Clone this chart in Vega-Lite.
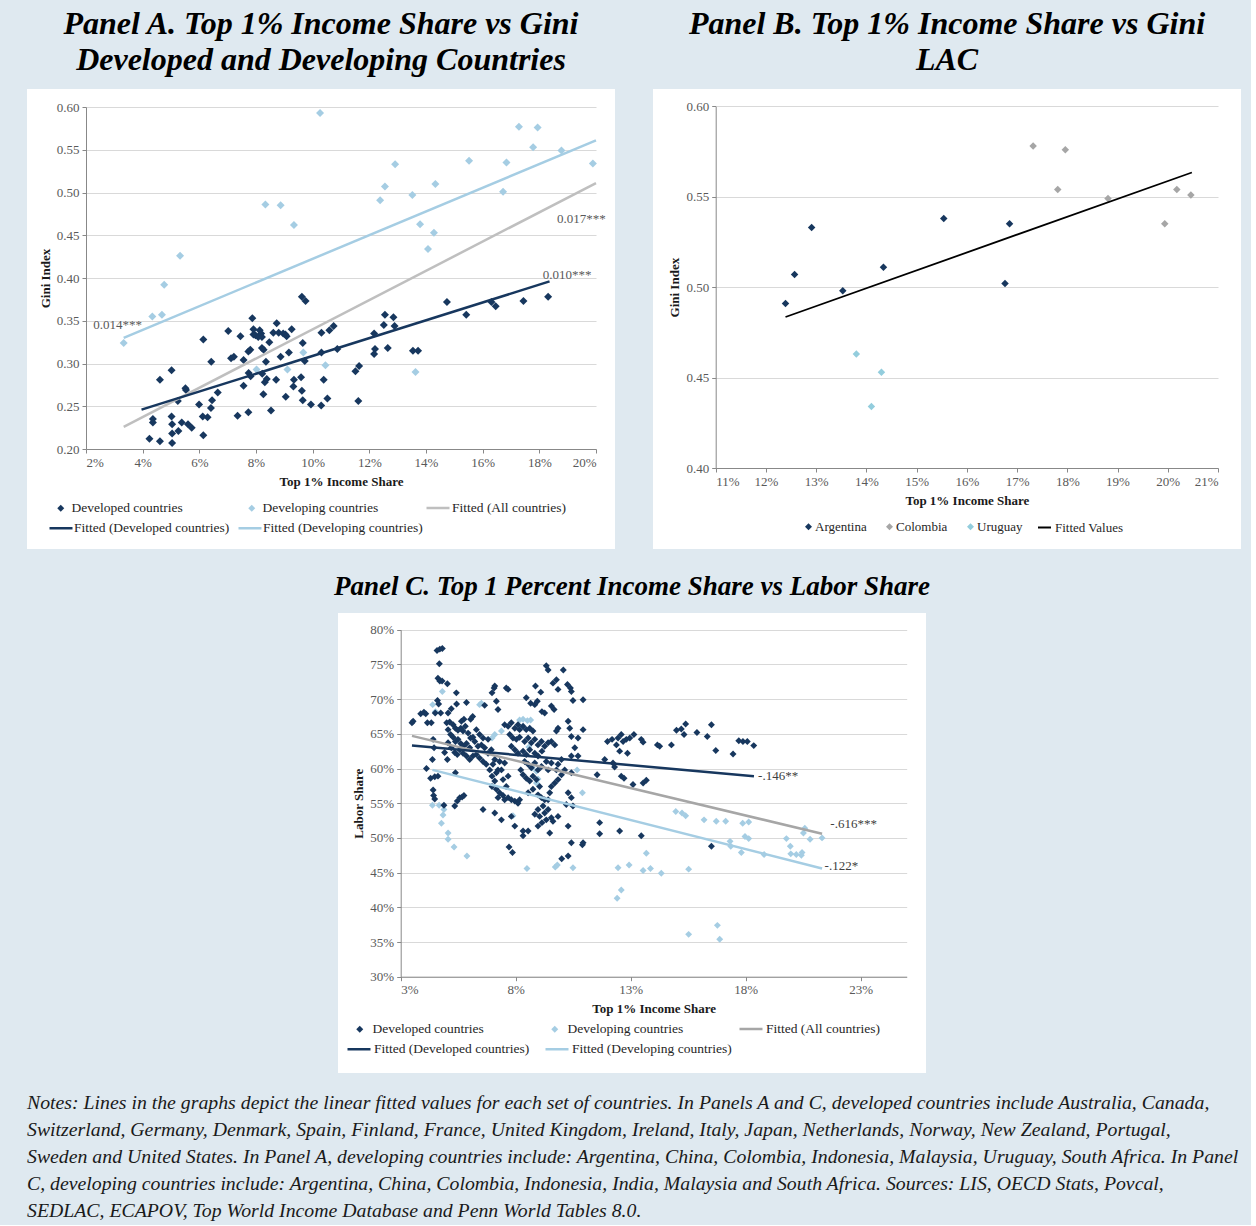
{
"$schema":"https://vega.github.io/schema/vega-lite/v6.json",
"background":"#dfe9f0",
"padding":{"left":27,"top":8,"right":10,"bottom":4},
"title":{"text":["Notes: Lines in the graphs depict the linear fitted values for each set of countries. In Panels A and C, developed countries include Australia, Canada,","Switzerland, Germany, Denmark, Spain, Finland, France, United Kingdom, Ireland, Italy, Japan, Netherlands, Norway, New Zealand, Portugal,","Sweden and United States. In Panel A, developing countries include: Argentina, China, Colombia, Indonesia, Malaysia, Uruguay, South Africa. In Panel","C, developing countries include: Argentina, China, Colombia, Indonesia, India, Malaysia and South Africa. Sources: LIS, OECD Stats, Povcal,","SEDLAC, ECAPOV, Top World Income Database and Penn World Tables 8.0."],"orient":"bottom","anchor":"start","frame":"bounds","font":"Liberation Serif","fontStyle":"italic","fontWeight":"normal","fontSize":19.8,"lineHeight":27,"offset":20,"color":"#1a1a1a"},
"datasets":{
"a_pts":[
{"x":10.26,"y":0.593,"s":"dvg"},{"x":8.33,"y":0.486,"s":"dvg"},{"x":8.87,"y":0.485,"s":"dvg"},{"x":9.34,"y":0.462,"s":"dvg"},{"x":5.32,"y":0.426,"s":"dvg"},{"x":4.76,"y":0.392,"s":"dvg"},{"x":4.34,"y":0.355,"s":"dvg"},{"x":4.68,"y":0.357,"s":"dvg"},{"x":3.33,"y":0.324,"s":"dvg"},{"x":9.67,"y":0.313,"s":"dvg"},{"x":8.02,"y":0.293,"s":"dvg"},{"x":9.11,"y":0.293,"s":"dvg"},{"x":10.45,"y":0.298,"s":"dvg"},{"x":17.28,"y":0.577,"s":"dvg"},{"x":17.94,"y":0.576,"s":"dvg"},{"x":17.78,"y":0.553,"s":"dvg"},{"x":18.78,"y":0.549,"s":"dvg"},{"x":19.89,"y":0.534,"s":"dvg"},{"x":16.84,"y":0.535,"s":"dvg"},{"x":15.52,"y":0.537,"s":"dvg"},{"x":12.91,"y":0.533,"s":"dvg"},{"x":12.55,"y":0.507,"s":"dvg"},{"x":12.38,"y":0.491,"s":"dvg"},{"x":13.52,"y":0.497,"s":"dvg"},{"x":14.33,"y":0.51,"s":"dvg"},{"x":16.72,"y":0.501,"s":"dvg"},{"x":13.79,"y":0.463,"s":"dvg"},{"x":14.28,"y":0.453,"s":"dvg"},{"x":14.07,"y":0.434,"s":"dvg"},{"x":13.63,"y":0.29,"s":"dvg"},
{"x":4.24,"y":0.212,"s":"dev"},{"x":4.36,"y":0.235,"s":"dev"},{"x":4.36,"y":0.231,"s":"dev"},{"x":4.61,"y":0.209,"s":"dev"},{"x":4.61,"y":0.281,"s":"dev"},{"x":5.02,"y":0.292,"s":"dev"},{"x":5.02,"y":0.238,"s":"dev"},{"x":5.04,"y":0.229,"s":"dev"},{"x":5.04,"y":0.218,"s":"dev"},{"x":5.04,"y":0.207,"s":"dev"},{"x":5.26,"y":0.221,"s":"dev"},{"x":5.24,"y":0.256,"s":"dev"},{"x":5.38,"y":0.231,"s":"dev"},{"x":5.51,"y":0.271,"s":"dev"},{"x":5.53,"y":0.269,"s":"dev"},{"x":5.6,"y":0.229,"s":"dev"},{"x":5.73,"y":0.225,"s":"dev"},{"x":5.99,"y":0.252,"s":"dev"},{"x":6.14,"y":0.328,"s":"dev"},{"x":6.12,"y":0.238,"s":"dev"},{"x":6.14,"y":0.216,"s":"dev"},{"x":6.29,"y":0.237,"s":"dev"},{"x":6.42,"y":0.302,"s":"dev"},{"x":6.45,"y":0.257,"s":"dev"},{"x":6.41,"y":0.248,"s":"dev"},{"x":6.65,"y":0.266,"s":"dev"},{"x":7.02,"y":0.338,"s":"dev"},{"x":7.12,"y":0.306,"s":"dev"},{"x":7.22,"y":0.308,"s":"dev"},{"x":7.35,"y":0.239,"s":"dev"},{"x":7.45,"y":0.332,"s":"dev"},{"x":7.56,"y":0.304,"s":"dev"},{"x":7.56,"y":0.274,"s":"dev"},{"x":7.73,"y":0.243,"s":"dev"},{"x":7.73,"y":0.314,"s":"dev"},{"x":7.8,"y":0.316,"s":"dev"},{"x":7.87,"y":0.353,"s":"dev"},{"x":7.91,"y":0.34,"s":"dev"},{"x":7.91,"y":0.334,"s":"dev"},{"x":7.74,"y":0.289,"s":"dev"},{"x":7.81,"y":0.285,"s":"dev"},{"x":7.98,"y":0.333,"s":"dev"},{"x":8.08,"y":0.331,"s":"dev"},{"x":8.13,"y":0.339,"s":"dev"},{"x":8.18,"y":0.335,"s":"dev"},{"x":8.21,"y":0.318,"s":"dev"},{"x":8.21,"y":0.331,"s":"dev"},{"x":8.22,"y":0.288,"s":"dev"},{"x":8.27,"y":0.316,"s":"dev"},{"x":8.26,"y":0.264,"s":"dev"},{"x":8.31,"y":0.278,"s":"dev"},{"x":8.38,"y":0.282,"s":"dev"},{"x":8.35,"y":0.302,"s":"dev"},{"x":8.47,"y":0.325,"s":"dev"},{"x":8.53,"y":0.245,"s":"dev"},{"x":8.61,"y":0.336,"s":"dev"},{"x":8.73,"y":0.347,"s":"dev"},{"x":8.71,"y":0.281,"s":"dev"},{"x":8.8,"y":0.336,"s":"dev"},{"x":8.87,"y":0.308,"s":"dev"},{"x":8.96,"y":0.335,"s":"dev"},{"x":9.04,"y":0.334,"s":"dev"},{"x":9.08,"y":0.332,"s":"dev"},{"x":9.05,"y":0.261,"s":"dev"},{"x":9.16,"y":0.313,"s":"dev"},{"x":9.26,"y":0.34,"s":"dev"},{"x":9.32,"y":0.273,"s":"dev"},{"x":9.34,"y":0.281,"s":"dev"},{"x":9.59,"y":0.284,"s":"dev"},{"x":9.62,"y":0.378,"s":"dev"},{"x":9.75,"y":0.373,"s":"dev"},{"x":9.65,"y":0.324,"s":"dev"},{"x":9.62,"y":0.268,"s":"dev"},{"x":9.65,"y":0.257,"s":"dev"},{"x":9.72,"y":0.303,"s":"dev"},{"x":9.94,"y":0.252,"s":"dev"},{"x":10.3,"y":0.251,"s":"dev"},{"x":10.31,"y":0.336,"s":"dev"},{"x":10.31,"y":0.313,"s":"dev"},{"x":10.39,"y":0.281,"s":"dev"},{"x":10.52,"y":0.259,"s":"dev"},{"x":10.59,"y":0.339,"s":"dev"},{"x":10.74,"y":0.344,"s":"dev"},{"x":10.87,"y":0.317,"s":"dev"},{"x":11.51,"y":0.291,"s":"dev"},{"x":11.64,"y":0.297,"s":"dev"},{"x":11.61,"y":0.256,"s":"dev"},{"x":12.17,"y":0.335,"s":"dev"},{"x":12.2,"y":0.317,"s":"dev"},{"x":12.17,"y":0.311,"s":"dev"},{"x":12.51,"y":0.345,"s":"dev"},{"x":12.55,"y":0.357,"s":"dev"},{"x":12.65,"y":0.318,"s":"dev"},{"x":12.85,"y":0.354,"s":"dev"},{"x":12.89,"y":0.344,"s":"dev"},{"x":13.54,"y":0.315,"s":"dev"},{"x":13.72,"y":0.315,"s":"dev"},{"x":14.74,"y":0.372,"s":"dev"},{"x":15.42,"y":0.357,"s":"dev"},{"x":16.31,"y":0.372,"s":"dev"},{"x":16.46,"y":0.367,"s":"dev"},{"x":17.44,"y":0.373,"s":"dev"},{"x":18.31,"y":0.378,"s":"dev"}],
"a_fa":[{"x":3.33,"y":0.226,"s":"fa"},{"x":20,"y":0.511,"s":"fa"}],
"a_fdg":[{"x":3.96,"y":0.246,"s":"fd"},{"x":18.36,"y":0.396,"s":"fd"},{"x":3.33,"y":0.33,"s":"fg"},{"x":20,"y":0.561,"s":"fg"}],
"a_lbl":[{"x":2.26,"y":0.345,"t":"0.014***"},{"x":18.62,"y":0.469,"t":"0.017***"},{"x":18.12,"y":0.404,"t":"0.010***"}],
"b_pts":[{"x":12.39,"y":0.491,"c":"Argentina"},{"x":12.57,"y":0.507,"c":"Argentina"},{"x":12.91,"y":0.533,"c":"Argentina"},{"x":13.53,"y":0.498,"c":"Argentina"},{"x":14.34,"y":0.511,"c":"Argentina"},{"x":15.54,"y":0.538,"c":"Argentina"},{"x":16.85,"y":0.535,"c":"Argentina"},{"x":16.76,"y":0.502,"c":"Argentina"},{"x":17.32,"y":0.578,"c":"Colombia"},{"x":17.96,"y":0.576,"c":"Colombia"},{"x":17.81,"y":0.554,"c":"Colombia"},{"x":18.81,"y":0.549,"c":"Colombia"},{"x":19.94,"y":0.535,"c":"Colombia"},{"x":20.18,"y":0.554,"c":"Colombia"},{"x":20.46,"y":0.551,"c":"Colombia"},{"x":13.8,"y":0.463,"c":"Uruguay"},{"x":14.3,"y":0.453,"c":"Uruguay"},{"x":14.1,"y":0.434,"c":"Uruguay"}],
"b_fit":[{"x":12.39,"y":0.4835,"c":"Fitted Values"},{"x":20.48,"y":0.5634,"c":"Fitted Values"}],
"c_pts":[
{"x":4.39,"y":69.2,"s":"dvg"},{"x":4.51,"y":68.2,"s":"dvg"},{"x":4.81,"y":71.1,"s":"dvg"},{"x":4.38,"y":54.7,"s":"dvg"},{"x":4.67,"y":54.7,"s":"dvg"},{"x":4.88,"y":54.1,"s":"dvg"},{"x":4.84,"y":53.3,"s":"dvg"},{"x":4.77,"y":52.1,"s":"dvg"},{"x":5.06,"y":50.7,"s":"dvg"},{"x":5.06,"y":49.8,"s":"dvg"},{"x":5.32,"y":48.7,"s":"dvg"},{"x":5.88,"y":47.4,"s":"dvg"},{"x":6.43,"y":69.2,"s":"dvg"},{"x":6.51,"y":69.4,"s":"dvg"},{"x":6.97,"y":64.4,"s":"dvg"},{"x":7.09,"y":64.9,"s":"dvg"},{"x":7.38,"y":65.4,"s":"dvg"},{"x":8.17,"y":67.0,"s":"dvg"},{"x":8.32,"y":67.1,"s":"dvg"},{"x":8.51,"y":66.9,"s":"dvg"},{"x":8.65,"y":67.0,"s":"dvg"},{"x":8.17,"y":65.8,"s":"dvg"},{"x":8.57,"y":63.1,"s":"dvg"},{"x":8.72,"y":60.1,"s":"dvg"},{"x":8.9,"y":57.9,"s":"dvg"},{"x":8.97,"y":58.5,"s":"dvg"},{"x":7.88,"y":53.2,"s":"dvg"},{"x":10.67,"y":59.8,"s":"dvg"},{"x":10.9,"y":56.5,"s":"dvg"},{"x":8.49,"y":45.6,"s":"dvg"},{"x":9.72,"y":45.8,"s":"dvg"},{"x":9.81,"y":46.1,"s":"dvg"},{"x":10.49,"y":45.7,"s":"dvg"},{"x":12.45,"y":45.7,"s":"dvg"},{"x":12.59,"y":42.5,"s":"dvg"},{"x":12.41,"y":41.3,"s":"dvg"},{"x":12.93,"y":46.1,"s":"dvg"},{"x":13.54,"y":45.3,"s":"dvg"},{"x":13.68,"y":47.8,"s":"dvg"},{"x":13.86,"y":45.6,"s":"dvg"},{"x":14.33,"y":44.9,"s":"dvg"},{"x":15.52,"y":45.5,"s":"dvg"},{"x":15.52,"y":36.1,"s":"dvg"},{"x":16.77,"y":37.4,"s":"dvg"},{"x":16.87,"y":35.4,"s":"dvg"},{"x":14.96,"y":53.8,"s":"dvg"},{"x":15.23,"y":53.6,"s":"dvg"},{"x":15.39,"y":53.2,"s":"dvg"},{"x":16.19,"y":52.6,"s":"dvg"},{"x":16.72,"y":52.4,"s":"dvg"},{"x":17.13,"y":52.4,"s":"dvg"},{"x":17.87,"y":52.1,"s":"dvg"},{"x":18.13,"y":52.3,"s":"dvg"},{"x":17.97,"y":50.2,"s":"dvg"},{"x":18.13,"y":49.9,"s":"dvg"},{"x":17.32,"y":49.5,"s":"dvg"},{"x":17.35,"y":48.8,"s":"dvg"},{"x":17.81,"y":47.9,"s":"dvg"},{"x":19.77,"y":49.9,"s":"dvg"},{"x":19.94,"y":48.8,"s":"dvg"},{"x":20.51,"y":50.7,"s":"dvg"},{"x":20.57,"y":51.4,"s":"dvg"},{"x":20.8,"y":49.8,"s":"dvg"},{"x":21.32,"y":50.0,"s":"dvg"},{"x":20.45,"y":47.9,"s":"dvg"},{"x":18.8,"y":47.6,"s":"dvg"},{"x":19.96,"y":47.7,"s":"dvg"},{"x":20.2,"y":47.6,"s":"dvg"},{"x":20.42,"y":47.5,"s":"dvg"},{"x":8.9,"y":59.6,"s":"dvg"},
{"x":4.58,"y":77.0,"s":"dev"},{"x":4.7,"y":77.2,"s":"dev"},{"x":4.81,"y":77.3,"s":"dev"},{"x":4.68,"y":75.1,"s":"dev"},{"x":4.62,"y":73.0,"s":"dev"},{"x":4.7,"y":72.6,"s":"dev"},{"x":4.8,"y":72.6,"s":"dev"},{"x":5.03,"y":72.2,"s":"dev"},{"x":5.42,"y":70.9,"s":"dev"},{"x":5.86,"y":69.5,"s":"dev"},{"x":4.6,"y":69.8,"s":"dev"},{"x":4.65,"y":69.3,"s":"dev"},{"x":3.54,"y":66.8,"s":"dev"},{"x":3.49,"y":66.6,"s":"dev"},{"x":3.87,"y":67.9,"s":"dev"},{"x":4.01,"y":68.1,"s":"dev"},{"x":4.09,"y":67.9,"s":"dev"},{"x":4.16,"y":66.6,"s":"dev"},{"x":4.33,"y":66.6,"s":"dev"},{"x":4.5,"y":68.0,"s":"dev"},{"x":4.74,"y":68.0,"s":"dev"},{"x":5.06,"y":68.0,"s":"dev"},{"x":5.2,"y":68.6,"s":"dev"},{"x":5.43,"y":69.3,"s":"dev"},{"x":5.64,"y":66.8,"s":"dev"},{"x":5.75,"y":67.1,"s":"dev"},{"x":6.04,"y":67.1,"s":"dev"},{"x":6.13,"y":67.5,"s":"dev"},{"x":6.65,"y":69.1,"s":"dev"},{"x":6.97,"y":70.9,"s":"dev"},{"x":7.06,"y":71.6,"s":"dev"},{"x":7.09,"y":71.9,"s":"dev"},{"x":7.16,"y":69.7,"s":"dev"},{"x":7.23,"y":68.5,"s":"dev"},{"x":7.59,"y":71.6,"s":"dev"},{"x":7.67,"y":71.4,"s":"dev"},{"x":7.52,"y":66.3,"s":"dev"},{"x":8.46,"y":70.2,"s":"dev"},{"x":8.65,"y":69.4,"s":"dev"},{"x":8.83,"y":69.2,"s":"dev"},{"x":8.94,"y":69.7,"s":"dev"},{"x":8.86,"y":71.9,"s":"dev"},{"x":9.09,"y":71.0,"s":"dev"},{"x":9.33,"y":74.8,"s":"dev"},{"x":9.41,"y":74.2,"s":"dev"},{"x":9.62,"y":72.3,"s":"dev"},{"x":9.77,"y":72.8,"s":"dev"},{"x":9.84,"y":71.4,"s":"dev"},{"x":10.07,"y":74.2,"s":"dev"},{"x":10.25,"y":72.1,"s":"dev"},{"x":10.38,"y":71.6,"s":"dev"},{"x":10.42,"y":71.1,"s":"dev"},{"x":10.49,"y":69.8,"s":"dev"},{"x":10.93,"y":69.9,"s":"dev"},{"x":10.28,"y":66.8,"s":"dev"},{"x":9.55,"y":69.0,"s":"dev"},{"x":9.67,"y":68.5,"s":"dev"},{"x":9.14,"y":68.2,"s":"dev"},{"x":9.26,"y":68.0,"s":"dev"},{"x":9.84,"y":65.8,"s":"dev"},{"x":9.77,"y":65.4,"s":"dev"},{"x":10.42,"y":64.6,"s":"dev"},{"x":10.35,"y":65.8,"s":"dev"},{"x":10.93,"y":65.6,"s":"dev"},{"x":10.71,"y":64.4,"s":"dev"},{"x":10.57,"y":63.0,"s":"dev"},{"x":10.71,"y":61.8,"s":"dev"},
{"x":5.0,"y":66.6,"s":"dev"},{"x":5.13,"y":66.7,"s":"dev"},{"x":5.28,"y":66.3,"s":"dev"},{"x":5.38,"y":65.8,"s":"dev"},{"x":5.49,"y":65.5,"s":"dev"},{"x":5.61,"y":65.8,"s":"dev"},{"x":5.71,"y":65.4,"s":"dev"},{"x":5.81,"y":66.1,"s":"dev"},{"x":5.93,"y":65.1,"s":"dev"},{"x":6.04,"y":64.4,"s":"dev"},{"x":6.14,"y":64.5,"s":"dev"},{"x":5.06,"y":65.6,"s":"dev"},{"x":5.17,"y":64.9,"s":"dev"},{"x":5.28,"y":64.5,"s":"dev"},{"x":5.38,"y":63.9,"s":"dev"},{"x":5.49,"y":64.2,"s":"dev"},{"x":5.61,"y":63.6,"s":"dev"},{"x":5.72,"y":63.2,"s":"dev"},{"x":5.86,"y":63.6,"s":"dev"},{"x":6.0,"y":63.0,"s":"dev"},{"x":5.06,"y":63.7,"s":"dev"},{"x":5.2,"y":63.0,"s":"dev"},{"x":5.35,"y":62.3,"s":"dev"},{"x":5.46,"y":62.0,"s":"dev"},{"x":5.57,"y":62.7,"s":"dev"},{"x":5.71,"y":62.2,"s":"dev"},{"x":5.86,"y":61.8,"s":"dev"},{"x":6.0,"y":61.3,"s":"dev"},{"x":6.14,"y":61.8,"s":"dev"},{"x":6.29,"y":62.0,"s":"dev"},{"x":6.43,"y":61.5,"s":"dev"},{"x":6.58,"y":61.0,"s":"dev"},{"x":6.72,"y":60.6,"s":"dev"},{"x":6.36,"y":63.2,"s":"dev"},{"x":6.51,"y":63.4,"s":"dev"},{"x":6.65,"y":63.0,"s":"dev"},{"x":6.8,"y":62.2,"s":"dev"},{"x":6.94,"y":62.7,"s":"dev"},{"x":6.29,"y":65.6,"s":"dev"},{"x":6.43,"y":64.9,"s":"dev"},{"x":6.58,"y":64.4,"s":"dev"},{"x":6.22,"y":63.9,"s":"dev"},{"x":6.8,"y":64.2,"s":"dev"},{"x":4.91,"y":62.3,"s":"dev"},{"x":5.03,"y":61.3,"s":"dev"},{"x":4.41,"y":64.2,"s":"dev"},{"x":4.45,"y":63.0,"s":"dev"},{"x":4.38,"y":61.3,"s":"dev"},
{"x":4.12,"y":60.0,"s":"dev"},{"x":4.3,"y":58.6,"s":"dev"},{"x":4.48,"y":58.8,"s":"dev"},{"x":4.62,"y":58.9,"s":"dev"},{"x":4.41,"y":56.9,"s":"dev"},{"x":4.43,"y":56.1,"s":"dev"},{"x":4.48,"y":55.6,"s":"dev"},{"x":4.88,"y":54.7,"s":"dev"},{"x":5.35,"y":54.6,"s":"dev"},{"x":5.46,"y":55.3,"s":"dev"},{"x":5.57,"y":55.8,"s":"dev"},{"x":5.67,"y":55.9,"s":"dev"},{"x":5.75,"y":56.1,"s":"dev"},{"x":5.38,"y":59.4,"s":"dev"},{"x":6.58,"y":54.1,"s":"dev"},{"x":7.09,"y":53.6,"s":"dev"},{"x":7.38,"y":52.6,"s":"dev"},{"x":7.81,"y":53.1,"s":"dev"},{"x":7.96,"y":51.7,"s":"dev"},{"x":8.32,"y":51.0,"s":"dev"},{"x":8.32,"y":50.3,"s":"dev"},{"x":8.54,"y":51.0,"s":"dev"},
{"x":6.87,"y":59.8,"s":"dev"},{"x":6.97,"y":58.9,"s":"dev"},{"x":7.09,"y":58.2,"s":"dev"},{"x":6.97,"y":57.4,"s":"dev"},{"x":7.16,"y":57.0,"s":"dev"},{"x":7.3,"y":56.5,"s":"dev"},{"x":7.45,"y":56.1,"s":"dev"},{"x":7.23,"y":55.8,"s":"dev"},{"x":7.52,"y":55.5,"s":"dev"},{"x":7.67,"y":55.8,"s":"dev"},{"x":7.81,"y":55.5,"s":"dev"},{"x":7.96,"y":55.3,"s":"dev"},{"x":8.1,"y":55.0,"s":"dev"},{"x":8.17,"y":55.5,"s":"dev"},{"x":7.59,"y":57.4,"s":"dev"},{"x":7.45,"y":58.4,"s":"dev"},{"x":7.67,"y":58.9,"s":"dev"},{"x":7.38,"y":59.8,"s":"dev"},{"x":7.52,"y":60.8,"s":"dev"},{"x":7.3,"y":61.0,"s":"dev"},{"x":7.09,"y":61.3,"s":"dev"},{"x":7.01,"y":60.6,"s":"dev"},{"x":7.23,"y":59.8,"s":"dev"},{"x":7.16,"y":59.4,"s":"dev"},
{"x":7.67,"y":66.1,"s":"dev"},{"x":7.81,"y":66.6,"s":"dev"},{"x":7.96,"y":65.8,"s":"dev"},{"x":8.1,"y":66.3,"s":"dev"},{"x":8.17,"y":65.6,"s":"dev"},{"x":8.32,"y":66.1,"s":"dev"},{"x":8.46,"y":65.6,"s":"dev"},{"x":8.61,"y":65.8,"s":"dev"},{"x":8.75,"y":65.4,"s":"dev"},{"x":7.74,"y":64.9,"s":"dev"},{"x":7.88,"y":64.4,"s":"dev"},{"x":8.03,"y":64.2,"s":"dev"},{"x":8.17,"y":64.5,"s":"dev"},{"x":8.39,"y":63.9,"s":"dev"},{"x":8.54,"y":64.4,"s":"dev"},{"x":8.68,"y":63.7,"s":"dev"},{"x":8.83,"y":64.2,"s":"dev"},{"x":8.97,"y":63.4,"s":"dev"},{"x":9.12,"y":63.9,"s":"dev"},{"x":7.81,"y":63.2,"s":"dev"},{"x":7.96,"y":62.7,"s":"dev"},{"x":8.1,"y":62.2,"s":"dev"},{"x":8.32,"y":62.5,"s":"dev"},{"x":8.46,"y":62.0,"s":"dev"},{"x":8.61,"y":62.7,"s":"dev"},{"x":8.83,"y":62.2,"s":"dev"},{"x":8.97,"y":61.8,"s":"dev"},{"x":9.14,"y":62.5,"s":"dev"},{"x":9.26,"y":63.2,"s":"dev"},{"x":9.41,"y":63.7,"s":"dev"},{"x":9.55,"y":63.9,"s":"dev"},{"x":9.7,"y":63.4,"s":"dev"},{"x":8.39,"y":61.0,"s":"dev"},{"x":8.54,"y":60.6,"s":"dev"},{"x":8.68,"y":60.1,"s":"dev"},{"x":8.83,"y":60.8,"s":"dev"},{"x":8.97,"y":59.8,"s":"dev"},{"x":8.22,"y":59.8,"s":"dev"},{"x":8.32,"y":59.1,"s":"dev"},{"x":8.46,"y":58.6,"s":"dev"},{"x":8.61,"y":58.2,"s":"dev"},{"x":8.75,"y":58.9,"s":"dev"},{"x":8.9,"y":58.4,"s":"dev"},{"x":9.04,"y":57.4,"s":"dev"},{"x":8.75,"y":57.0,"s":"dev"},{"x":8.54,"y":56.5,"s":"dev"},{"x":8.97,"y":56.2,"s":"dev"},{"x":9.12,"y":55.8,"s":"dev"},{"x":9.26,"y":55.5,"s":"dev"},{"x":9.19,"y":54.6,"s":"dev"},{"x":8.97,"y":54.1,"s":"dev"},{"x":8.83,"y":53.4,"s":"dev"},{"x":9.04,"y":53.1,"s":"dev"},{"x":9.26,"y":53.6,"s":"dev"},{"x":9.41,"y":54.1,"s":"dev"},{"x":9.33,"y":52.6,"s":"dev"},{"x":9.14,"y":52.2,"s":"dev"},{"x":8.97,"y":51.7,"s":"dev"},{"x":9.55,"y":52.9,"s":"dev"},{"x":9.62,"y":52.4,"s":"dev"},{"x":9.41,"y":55.5,"s":"dev"},{"x":9.48,"y":56.5,"s":"dev"},{"x":9.55,"y":57.4,"s":"dev"},{"x":9.7,"y":57.9,"s":"dev"},{"x":9.84,"y":58.4,"s":"dev"},{"x":9.99,"y":59.1,"s":"dev"},{"x":10.13,"y":59.8,"s":"dev"},{"x":9.77,"y":59.8,"s":"dev"},{"x":9.84,"y":60.6,"s":"dev"},{"x":9.99,"y":61.3,"s":"dev"},{"x":9.55,"y":60.8,"s":"dev"},{"x":9.33,"y":61.0,"s":"dev"},{"x":9.12,"y":60.3,"s":"dev"},{"x":9.41,"y":59.8,"s":"dev"},{"x":9.48,"y":50.7,"s":"dev"},{"x":10.42,"y":61.8,"s":"dev"},{"x":10.42,"y":59.4,"s":"dev"},{"x":10.28,"y":56.5,"s":"dev"},{"x":10.42,"y":55.8,"s":"dev"},{"x":10.49,"y":54.6,"s":"dev"},{"x":10.2,"y":54.8,"s":"dev"},{"x":9.84,"y":53.1,"s":"dev"},{"x":10.28,"y":51.7,"s":"dev"},{"x":10.42,"y":49.3,"s":"dev"},{"x":10.93,"y":49.3,"s":"dev"},{"x":7.71,"y":48.7,"s":"dev"},{"x":7.86,"y":47.9,"s":"dev"},{"x":10.0,"y":47.0,"s":"dev"},{"x":10.28,"y":47.4,"s":"dev"},{"x":10.9,"y":49.0,"s":"dev"},
{"x":11.65,"y":52.2,"s":"dev"},{"x":11.65,"y":50.6,"s":"dev"},{"x":11.54,"y":59.1,"s":"dev"},{"x":11.87,"y":61.3,"s":"dev"},{"x":11.99,"y":63.9,"s":"dev"},{"x":12.19,"y":64.2,"s":"dev"},{"x":12.38,"y":63.4,"s":"dev"},{"x":12.45,"y":64.4,"s":"dev"},{"x":12.3,"y":60.2,"s":"dev"},{"x":12.23,"y":60.8,"s":"dev"},
{"x":12.59,"y":64.9,"s":"dev"},{"x":12.67,"y":63.9,"s":"dev"},{"x":12.81,"y":64.2,"s":"dev"},{"x":12.96,"y":64.4,"s":"dev"},{"x":13.14,"y":64.9,"s":"dev"},{"x":12.86,"y":62.2,"s":"dev"},{"x":12.52,"y":62.5,"s":"dev"},{"x":13.46,"y":64.2,"s":"dev"},{"x":13.54,"y":63.8,"s":"dev"},{"x":14.16,"y":63.4,"s":"dev"},{"x":14.26,"y":63.2,"s":"dev"},{"x":14.77,"y":63.4,"s":"dev"},{"x":14.99,"y":65.5,"s":"dev"},{"x":15.2,"y":65.7,"s":"dev"},{"x":15.32,"y":64.9,"s":"dev"},{"x":15.39,"y":66.4,"s":"dev"},{"x":15.88,"y":65.2,"s":"dev"},{"x":16.33,"y":64.6,"s":"dev"},{"x":16.51,"y":66.3,"s":"dev"},{"x":16.7,"y":62.6,"s":"dev"},{"x":17.45,"y":62.1,"s":"dev"},{"x":17.7,"y":64.0,"s":"dev"},{"x":17.88,"y":63.9,"s":"dev"},{"x":18.07,"y":63.9,"s":"dev"},{"x":18.35,"y":63.3,"s":"dev"},{"x":12.59,"y":58.9,"s":"dev"},{"x":12.71,"y":58.6,"s":"dev"},{"x":13.1,"y":57.7,"s":"dev"},{"x":13.54,"y":57.9,"s":"dev"},{"x":13.68,"y":58.3,"s":"dev"},{"x":12.52,"y":51.0,"s":"dev"},{"x":13.46,"y":50.3,"s":"dev"},{"x":16.51,"y":48.8,"s":"dev"}],
"c_fa":[{"x":3.49,"y":64.7,"s":"fa"},{"x":21.32,"y":50.6,"s":"fa"}],
"c_fdg":[{"x":3.49,"y":63.3,"s":"fd"},{"x":18.36,"y":58.9,"s":"fd"},{"x":4.38,"y":59.8,"s":"fg"},{"x":21.32,"y":45.6,"s":"fg"}],
"c_lbl":[{"x":18.54,"y":58.9,"t":"-.146**"},{"x":21.68,"y":52.0,"t":"-.616***"},{"x":21.43,"y":46.0,"t":"-.122*"}]
},
"vconcat":[
{"hconcat":[
{"width":588,"height":460,
"title":{"text":["Panel A. Top 1% Income Share vs Gini","Developed and Developing Countries"],"fontSize":32,"fontWeight":"bold","fontStyle":"italic","font":"Liberation Serif","lineHeight":36,"offset":12,"color":"#000000","anchor":"middle"},
"encoding":{
"x":{"field":"x","type":"quantitative","scale":{"domain":[2,20],"range":[59,569],"nice":false,"zero":false},"axis":{"title":"Top 1% Income Share","values":[2,4,6,8,10,12,14,16,18,20],"labelExpr":"datum.value + '%'","offset":-100,"grid":false,"titlePadding":6}},
"y":{"field":"y","type":"quantitative","scale":{"domain":[0.2,0.6],"range":[360,18],"nice":false,"zero":false},"axis":{"title":"Gini Index","values":[0.2,0.25,0.3,0.35,0.4,0.45,0.5,0.55,0.6],"format":".2f","offset":-59,"grid":true}}},
"layer":[
{"data":{"name":"a_pts"},"mark":{"type":"point","shape":"diamond","filled":true,"opacity":1,"size":64},
"encoding":{"color":{"field":"s","type":"nominal","scale":{"domain":["dev","dvg"],"range":["#17375e","#a5cde3"]},
"legend":{"title":null,"orient":"none","legendX":27,"legendY":412,"direction":"horizontal","columns":2,"symbolType":"diamond","symbolSize":49,"symbolStrokeWidth":0,"columnPadding":62,"labelOffset":4,"labelFontSize":13.5,"labelExpr":"datum.value=='dev'?'Developed countries':'Developing countries'"}}}},
{"data":{"name":"a_fa"},"mark":{"type":"line","strokeWidth":2.5},
"encoding":{"stroke":{"field":"s","type":"nominal","scale":{"domain":["fa"],"range":["#bfbfbf"]},
"legend":{"title":null,"orient":"none","legendX":398,"legendY":406,"direction":"horizontal","symbolType":"stroke","symbolSize":529,"symbolStrokeWidth":2.5,"labelOffset":1,"labelFontSize":13.5,"labelExpr":"'Fitted (All countries)'"}}}},
{"data":{"name":"a_fdg"},"mark":{"type":"line","strokeWidth":2.5},
"encoding":{"stroke":{"field":"s","type":"nominal","scale":{"domain":["fd","fg"],"range":["#17375e","#a5cde3"]},
"legend":{"title":null,"orient":"none","legendX":21,"legendY":426,"direction":"horizontal","columns":2,"symbolType":"stroke","symbolSize":529,"symbolStrokeWidth":2.5,"columnPadding":3,"labelOffset":0,"labelFontSize":13.5,"labelExpr":"datum.value=='fd'?'Fitted (Developed countries)':'Fitted (Developing countries)'"}}}},
{"data":{"name":"a_lbl"},"mark":{"type":"text","align":"left","baseline":"middle","font":"Liberation Serif","fontSize":13,"color":"#595959"},"encoding":{"text":{"field":"t"}}}
],
"resolve":{"scale":{"stroke":"independent"},"legend":{"stroke":"independent"}}},
{"width":588,"height":460,
"title":{"text":["Panel B. Top 1% Income Share vs Gini","LAC"],"fontSize":32,"fontWeight":"bold","fontStyle":"italic","font":"Liberation Serif","lineHeight":36,"offset":12,"color":"#000000","anchor":"middle"},
"encoding":{
"x":{"field":"x","type":"quantitative","scale":{"domain":[11,21],"range":[62.7,565],"nice":false,"zero":false},"axis":{"title":"Top 1% Income Share","values":[11,12,13,14,15,16,17,18,19,20,21],"labelExpr":"datum.value + '%'","offset":-81,"grid":false,"titlePadding":6}},
"y":{"field":"y","type":"quantitative","scale":{"domain":[0.4,0.6],"range":[379,17.3],"nice":false,"zero":false},"axis":{"title":"Gini Index","values":[0.4,0.45,0.5,0.55,0.6],"format":".2f","offset":-62.7,"grid":true}}},
"layer":[
{"data":{"name":"b_pts"},"mark":{"type":"point","shape":"diamond","filled":true,"opacity":1,"size":56},
"encoding":{"color":{"field":"c","type":"nominal","scale":{"domain":["Argentina","Colombia","Uruguay"],"range":["#17375e","#a6a6a6","#93cddd"]},
"legend":{"title":null,"orient":"none","legendX":149,"legendY":431,"direction":"horizontal","columns":3,"symbolType":"diamond","symbolSize":49,"symbolStrokeWidth":0,"columnPadding":16,"labelOffset":0,"labelFontSize":13}}}},
{"data":{"name":"b_fit"},"mark":{"type":"line","strokeWidth":1.8},
"encoding":{"stroke":{"field":"c","type":"nominal","scale":{"domain":["Fitted Values"],"range":["#000000"]},
"legend":{"title":null,"orient":"none","legendX":384,"legendY":431,"direction":"horizontal","symbolType":"stroke","symbolSize":169,"symbolStrokeWidth":2,"labelOffset":3,"labelFontSize":13}}}}
]}
],"spacing":38,"resolve":{"scale":{"color":"independent","stroke":"independent"},"legend":{"color":"independent","stroke":"independent"}}},
{"width":588,"height":460,
"title":{"text":"Panel C. Top 1 Percent Income Share vs Labor Share","fontSize":27,"fontWeight":"bold","fontStyle":"italic","font":"Liberation Serif","offset":12,"color":"#000000","anchor":"middle"},
"encoding":{
"x":{"field":"x","type":"quantitative","scale":{"domain":[3,25],"range":[62.7,568.7],"nice":false,"zero":false},"axis":{"title":"Top 1% Income Share","values":[3,8,13,18,23],"labelExpr":"datum.value + '%'","offset":-96.3,"grid":false,"titlePadding":6}},
"y":{"field":"y","type":"quantitative","scale":{"domain":[30,80],"range":[363.7,16.7],"nice":false,"zero":false},"axis":{"title":"Labor Share","values":[30,35,40,45,50,55,60,65,70,75,80],"labelExpr":"datum.value + '%'","offset":-62.7,"grid":true}}},
"layer":[
{"data":{"name":"c_pts"},"mark":{"type":"point","shape":"diamond","filled":true,"opacity":1,"size":48},
"encoding":{"color":{"field":"s","type":"nominal","scale":{"domain":["dev","dvg"],"range":["#17375e","#a5cde3"]},
"legend":{"title":null,"orient":"none","legendX":15,"legendY":409,"direction":"horizontal","columns":2,"symbolType":"diamond","symbolSize":49,"symbolStrokeWidth":0,"columnPadding":64,"labelOffset":6,"labelFontSize":13.5,"labelExpr":"datum.value=='dev'?'Developed countries':'Developing countries'"}}}},
{"data":{"name":"c_fa"},"mark":{"type":"line","strokeWidth":2.5},
"encoding":{"stroke":{"field":"s","type":"nominal","scale":{"domain":["fa"],"range":["#a6a6a6"]},
"legend":{"title":null,"orient":"none","legendX":400,"legendY":403,"direction":"horizontal","symbolType":"stroke","symbolSize":529,"symbolStrokeWidth":2.5,"labelOffset":2,"labelFontSize":13.5,"labelExpr":"'Fitted (All countries)'"}}}},
{"data":{"name":"c_fdg"},"mark":{"type":"line","strokeWidth":2.5},
"encoding":{"stroke":{"field":"s","type":"nominal","scale":{"domain":["fd","fg"],"range":["#17375e","#a5cde3"]},
"legend":{"title":null,"orient":"none","legendX":8,"legendY":423,"direction":"horizontal","columns":2,"symbolType":"stroke","symbolSize":529,"symbolStrokeWidth":2.5,"columnPadding":10,"labelOffset":2,"labelFontSize":13.5,"labelExpr":"datum.value=='fd'?'Fitted (Developed countries)':'Fitted (Developing countries)'"}}}},
{"data":{"name":"c_lbl"},"mark":{"type":"text","align":"left","baseline":"middle","font":"Liberation Serif","fontSize":13,"color":"#404040"},"encoding":{"text":{"field":"t"}}}
],
"resolve":{"scale":{"stroke":"independent"},"legend":{"stroke":"independent"}}}
],
"spacing":24,"center":true,
"resolve":{"scale":{"color":"independent","stroke":"independent"},"legend":{"color":"independent","stroke":"independent"}},
"config":{
"view":{"fill":"white","stroke":null},
"font":"Liberation Serif",
"axis":{"labelFont":"Liberation Serif","labelFontSize":13,"labelColor":"#595959","titleFont":"Liberation Serif","titleFontSize":13,"titleFontWeight":"bold","titleColor":"#1a1a1a","gridColor":"#d9d9d9","domainColor":"#888888","tickColor":"#888888","tickSize":4,"labelPadding":3},
"legend":{"labelFont":"Liberation Serif","labelFontSize":12.5,"labelColor":"#262626"}
}
}
